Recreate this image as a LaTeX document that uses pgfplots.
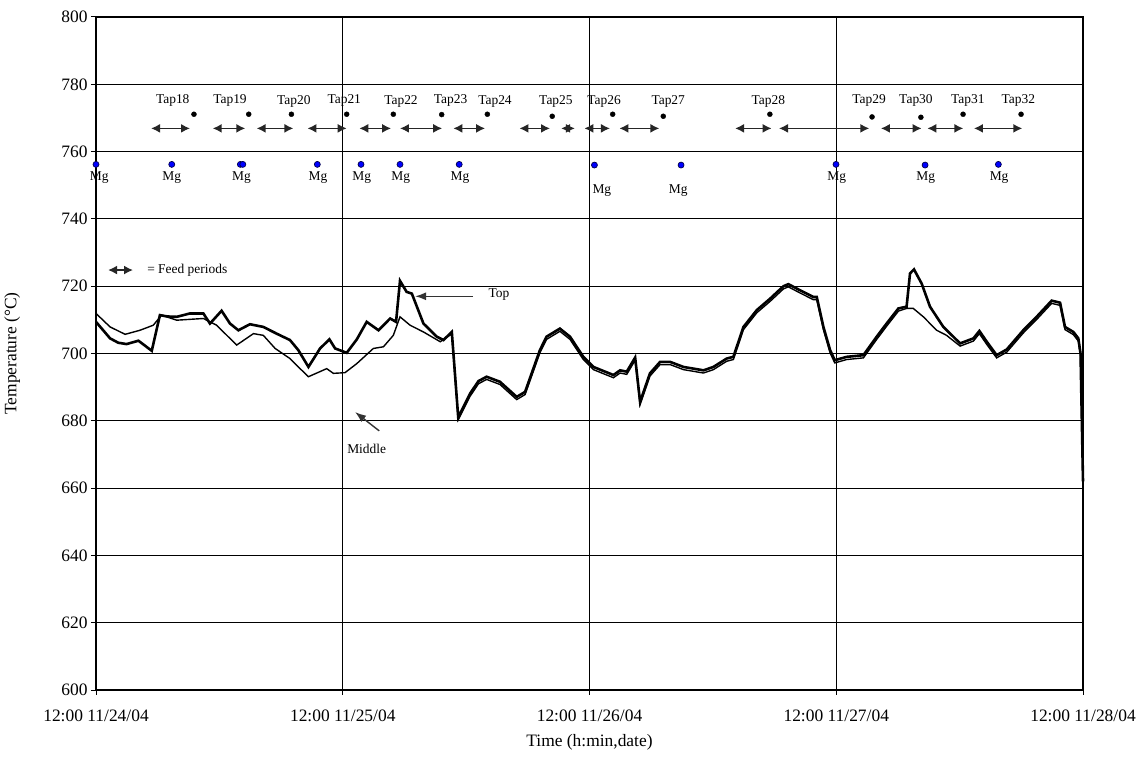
\documentclass[border=0pt]{standalone}
\usepackage{pgfplots}
\pgfplotsset{compat=1.18}
\usepackage{fontspec}
\setmainfont{Liberation Serif}
\usetikzlibrary{arrows.meta}

\pgfplotstableread{
x y
0.000 709.4
0.057 704.5
0.090 703.2
0.124 702.8
0.172 703.8
0.226 700.8
0.259 711.4
0.290 711.0
0.327 710.9
0.381 711.9
0.435 711.9
0.462 708.9
0.509 712.7
0.543 708.9
0.577 706.9
0.624 708.7
0.678 707.9
0.732 705.9
0.786 704.0
0.820 701.0
0.861 696.0
0.908 701.5
0.946 704.2
0.969 701.5
1.016 700.2
1.057 704.2
1.097 709.4
1.145 706.9
1.192 710.4
1.216 709.4
1.232 721.6
1.259 718.3
1.280 717.8
1.327 708.9
1.381 705.0
1.408 704.0
1.442 706.4
1.468 681.0
1.516 688.1
1.550 691.8
1.583 693.1
1.637 691.6
1.705 687.1
1.739 688.6
1.799 701.0
1.826 705.0
1.880 707.4
1.921 705.0
1.975 699.0
2.016 696.0
2.097 693.6
2.124 695.0
2.151 694.6
2.185 698.8
2.205 685.6
2.245 694.1
2.286 697.5
2.327 697.5
2.381 696.0
2.462 695.0
2.502 696.0
2.556 698.5
2.583 699.0
2.624 707.9
2.678 712.9
2.732 716.3
2.786 720.0
2.806 720.6
2.853 718.8
2.907 716.8
2.921 716.8
2.948 707.9
2.975 701.0
2.994 698.0
3.042 699.0
3.110 699.5
3.164 705.0
3.204 708.9
3.252 713.4
3.285 713.9
3.299 723.8
3.315 725.0
3.346 720.8
3.380 713.9
3.434 707.9
3.502 703.0
3.556 704.5
3.580 706.7
3.610 703.5
3.650 699.5
3.691 701.2
3.758 706.9
3.812 710.9
3.873 715.7
3.907 715.1
3.927 707.9
3.961 706.4
3.981 704.5
3.990 700.0
4.000 662.0
}\toptable

\pgfplotstableread{
x y
0.000 711.9
0.057 707.9
0.118 705.7
0.178 706.9
0.232 708.4
0.266 711.4
0.327 709.9
0.435 710.4
0.489 708.4
0.570 702.5
0.638 705.9
0.678 705.4
0.726 701.5
0.786 698.5
0.820 696.0
0.861 693.1
0.935 695.5
0.962 694.1
1.009 694.3
1.057 697.0
1.124 701.5
1.165 702.0
1.205 705.4
1.232 710.9
1.273 708.4
1.327 706.4
1.395 703.5
1.442 705.8
1.468 680.3
1.516 687.3
1.550 691.0
1.583 692.3
1.637 690.8
1.705 686.3
1.739 687.8
1.799 700.2
1.826 704.2
1.880 706.6
1.921 704.2
1.975 698.2
2.016 695.2
2.097 692.8
2.124 694.2
2.151 693.8
2.185 698.0
2.205 684.8
2.245 693.3
2.286 696.7
2.327 696.7
2.381 695.2
2.462 694.2
2.502 695.2
2.556 697.7
2.583 698.2
2.624 707.1
2.678 712.1
2.732 715.5
2.786 719.2
2.806 719.8
2.853 718.0
2.907 716.0
2.921 716.0
2.948 707.1
2.975 700.2
2.994 697.2
3.042 698.2
3.110 698.7
3.164 704.2
3.204 708.1
3.252 712.6
3.285 713.4
3.312 713.4
3.353 710.9
3.407 706.9
3.447 705.4
3.502 702.2
3.556 703.7
3.580 705.9
3.610 702.7
3.650 698.7
3.691 700.4
3.758 706.1
3.812 710.1
3.873 714.9
3.907 714.3
3.927 707.1
3.961 705.6
3.981 703.7
3.990 699.2
4.000 661.2
}\midtable

\begin{document}
\begin{tikzpicture}[x=1bp,y=1bp]
\begin{axis}[
  at={(96bp,70bp)}, anchor=south west,
  scale only axis, width=987bp, height=673bp,
  xmin=0, xmax=4, ymin=600, ymax=800,
  xtick={0,1,2,3,4},
  xticklabels={12:00 11/24/04,12:00 11/25/04,12:00 11/26/04,12:00 11/27/04,12:00 11/28/04},
  ytick={600,620,...,800},
  grid=major,
  major grid style={black, line width=0.8bp},
  axis line style={black, line width=1.2bp},
  tick style={black, line width=1bp},
  tick align=outside, major tick length=5bp,
  xtick pos=bottom, ytick pos=left,
  /pgf/number format/assume math mode=true,
  tick label style={font=\fontsize{17.5}{20}\selectfont},
  xticklabel style={yshift=-11bp},
  label style={font=\fontsize{17.5}{20}\selectfont},
  xlabel={Time (h:min,date)},
  ylabel={Temperature (°C)},
  xlabel style={at={(rel axis cs:0.5,-0.078)}, anchor=center},
  ylabel style={at={(rel axis cs:-0.085,0.5)}, anchor=center, rotate=0},
  clip=false,
]
\addplot[black, line width=1.4bp] table[x=x,y=y] {\midtable};
\addplot[black, line width=2.6bp] table[x=x,y=y] {\toptable};

% Tap dots
\addplot[only marks, mark=*, mark size=2.5bp, black] coordinates {
(0.397,771.1) (0.619,771.1) (0.792,771.1) (1.016,771.1) (1.205,771.1)
(1.401,771.0) (1.586,771.1) (1.849,770.5) (2.094,771.1) (2.299,770.5)
(2.731,771.1) (3.145,770.3) (3.343,770.2) (3.514,771.1) (3.749,771.1)};

% Mg dots
\addplot[only marks, mark=*, mark size=3bp, mark options={fill=blue, draw=black!70!blue, line width=0.7bp}] coordinates {
(0.000,756.2) (0.307,756.2) (0.585,756.2) (0.595,756.2) (0.897,756.2)
(1.074,756.2) (1.232,756.2) (1.472,756.2) (2.020,756.0) (2.371,756.0)
(2.999,756.2) (3.360,756.0) (3.657,756.2)};

% Feed period arrows
\pgfplotsset{feed/.style={{Latex[length=9bp,width=9bp]}-{Latex[length=9bp,width=9bp]}, black!85, line width=1.5bp}}
\addplot[feed] coordinates {(0.223,766.9) (0.381,766.9)};
\addplot[feed] coordinates {(0.473,766.9) (0.605,766.9)};
\addplot[feed] coordinates {(0.651,766.9) (0.800,766.9)};
\addplot[feed] coordinates {(0.857,766.9) (1.016,766.9)};
\addplot[feed] coordinates {(1.067,766.9) (1.196,766.9)};
\addplot[feed] coordinates {(1.232,766.9) (1.403,766.9)};
\addplot[feed] coordinates {(1.448,766.9) (1.577,766.9)};
\addplot[feed] coordinates {(1.716,766.9) (1.840,766.9)};
\addplot[feed] coordinates {(1.885,766.9) (1.941,766.9)};
\addplot[feed] coordinates {(1.979,766.9) (2.083,766.9)};
\addplot[feed] coordinates {(2.121,766.9) (2.283,766.9)};
\addplot[feed] coordinates {(2.590,766.9) (2.738,766.9)};
\addplot[feed] coordinates {(2.768,766.9) (3.134,766.9)};
\addplot[feed] coordinates {(3.181,766.9) (3.346,766.9)};
\addplot[feed] coordinates {(3.369,766.9) (3.515,766.9)};
\addplot[feed] coordinates {(3.558,766.9) (3.754,766.9)};
% legend arrow
\addplot[feed] coordinates {(0.049,724.8) (0.150,724.8)};

% Top / Middle annotation arrows
\addplot[-{Latex[length=11bp,width=8bp]}, black!80, line width=1.4bp] coordinates {(1.528,717.0) (1.293,717.0)};
\addplot[-{Latex[length=11bp,width=8bp]}, black!80, line width=1.4bp] coordinates {(1.148,677.0) (1.050,682.6)};

\begin{scope}[every node/.style={font=\fontsize{13.5}{15}\selectfont, inner sep=0pt}]
\node at (axis cs:0.311,775.3) {Tap18};
\node at (axis cs:0.543,775.3) {Tap19};
\node at (axis cs:0.802,774.8) {Tap20};
\node at (axis cs:1.006,775.3) {Tap21};
\node at (axis cs:1.236,775.0) {Tap22};
\node at (axis cs:1.437,775.3) {Tap23};
\node at (axis cs:1.617,774.8) {Tap24};
\node at (axis cs:1.864,774.8) {Tap25};
\node at (axis cs:2.059,775.0) {Tap26};
\node at (axis cs:2.319,775.0) {Tap27};
\node at (axis cs:2.725,774.8) {Tap28};
\node at (axis cs:3.133,775.3) {Tap29};
\node at (axis cs:3.323,775.3) {Tap30};
\node at (axis cs:3.533,775.3) {Tap31};
\node at (axis cs:3.738,775.3) {Tap32};

\node at (axis cs:0.013,752.3) {Mg};
\node at (axis cs:0.307,752.3) {Mg};
\node at (axis cs:0.590,752.3) {Mg};
\node at (axis cs:0.900,752.3) {Mg};
\node at (axis cs:1.077,752.3) {Mg};
\node at (axis cs:1.235,752.3) {Mg};
\node at (axis cs:1.475,752.3) {Mg};
\node at (axis cs:2.050,748.3) {Mg};
\node at (axis cs:2.360,748.3) {Mg};
\node at (axis cs:3.002,752.3) {Mg};
\node at (axis cs:3.363,752.3) {Mg};
\node at (axis cs:3.660,752.3) {Mg};

\node[anchor=west] at (axis cs:0.207,724.8) {= Feed periods};
\node at (axis cs:1.633,717.5) {Top};
\node at (axis cs:1.097,671.6) {Middle};
\end{scope}
\end{axis}
\pgfresetboundingbox
\path (0,0) rectangle (1145bp,760bp);
\end{tikzpicture}
\end{document}
